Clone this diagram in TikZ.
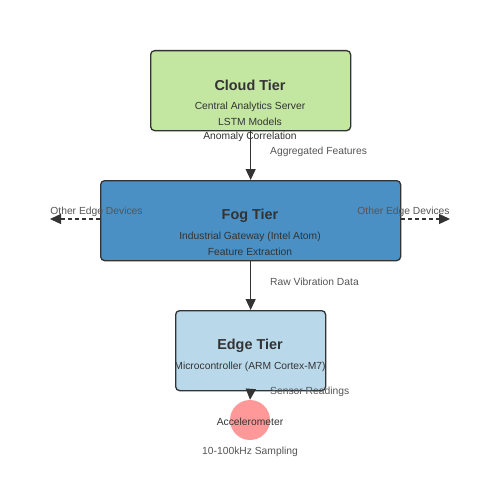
\documentclass[tikz,border=0pt]{standalone}
\usepackage{fontspec}
\setmainfont{Liberation Sans}
\usetikzlibrary{arrows.meta}
\definecolor{cloudfill}{HTML}{C3E6A1}
\definecolor{fogfill}{HTML}{4A90C4}
\definecolor{edgefill}{HTML}{B9D8EA}
\definecolor{sensfill}{HTML}{FF9999}
\definecolor{dark}{HTML}{333333}
\definecolor{lbl}{HTML}{555555}
\tikzset{
  x=1pt,y=-1pt,
  tier/.style={draw=dark,line width=1.3pt,rounded corners=4pt,anchor=north west,inner sep=0pt},
  ttl/.style={font=\bfseries\fontsize{14.4}{16}\selectfont,text=dark},
  sub/.style={font=\fontsize{10.3}{12}\selectfont,text=dark},
  lab/.style={font=\fontsize{10.3}{12}\selectfont,text=lbl},
  conn/.style={draw=dark,line width=1.3pt,-{Triangle[length=11pt,width=10pt]}},
  dconn/.style={conn,dash pattern=on 4pt off 3pt}
}
\begin{document}
\begin{tikzpicture}
\useasboundingbox (0,0) rectangle (500,500);
\fill[white] (0,0) rectangle (500,500);
% boxes
\node[tier,fill=cloudfill,minimum width=200pt,minimum height=80pt] (cloud) at (150,50) {};
\node[tier,fill=fogfill,minimum width=300pt,minimum height=80pt] (fog) at (100,180) {};
\node[tier,fill=edgefill,minimum width=150pt,minimum height=80pt] (edge) at (175,310) {};
\node[circle,fill=sensfill,minimum size=40pt,inner sep=0pt] (acc) at (250,420) {};
% titles and texts
\node[ttl] (ct) at (250,85.5) {Cloud Tier};
\node[sub] (c1) at (250,106.5) {Central Analytics Server};
\node[sub] (c2) at (250,121.5) {LSTM Models};
\node[sub] (c3) at (250,136.5) {Anomaly Correlation};
\node[ttl] (ft) at (250,215.5) {Fog Tier};
\node[sub] (f1) at (250,236.5) {Industrial Gateway (Intel Atom)};
\node[sub] (f2) at (250,251.5) {Feature Extraction};
\node[ttl] (et) at (250,345.5) {Edge Tier};
\node[sub] (e1) at (250,366.5) {Microcontroller (ARM Cortex-M7)};
\node[sub] (a1) at (250,421.5) {Accelerometer};
\node[lab] (a2) at (250,451.5) {10-100kHz Sampling};
% connectors
\coordinate (lend) at (50,219);
\coordinate (rend) at (450,219);
\draw[conn] (cloud.south) -- (fog.north);
\draw[conn] (fog.south) -- (edge.north);
\draw[conn] (edge.south) -- (acc.north);
\draw[dconn] (fog.west |- lend) -- (lend);
\draw[dconn] (fog.east |- rend) -- (rend);
% labels
\node[lab,anchor=west,inner xsep=0pt] (l1) at (270,151.5) {Aggregated Features};
\node[lab,anchor=west,inner xsep=0pt] (l2) at (270,281.5) {Raw Vibration Data};
\node[lab,anchor=west,inner xsep=0pt] (l3) at (270,391.5) {Sensor Readings};
\node[lab] (l4) at (96.5,211.5) {Other Edge Devices};
\node[lab] (l5) at (403.5,211.5) {Other Edge Devices};
\end{tikzpicture}
\end{document}
